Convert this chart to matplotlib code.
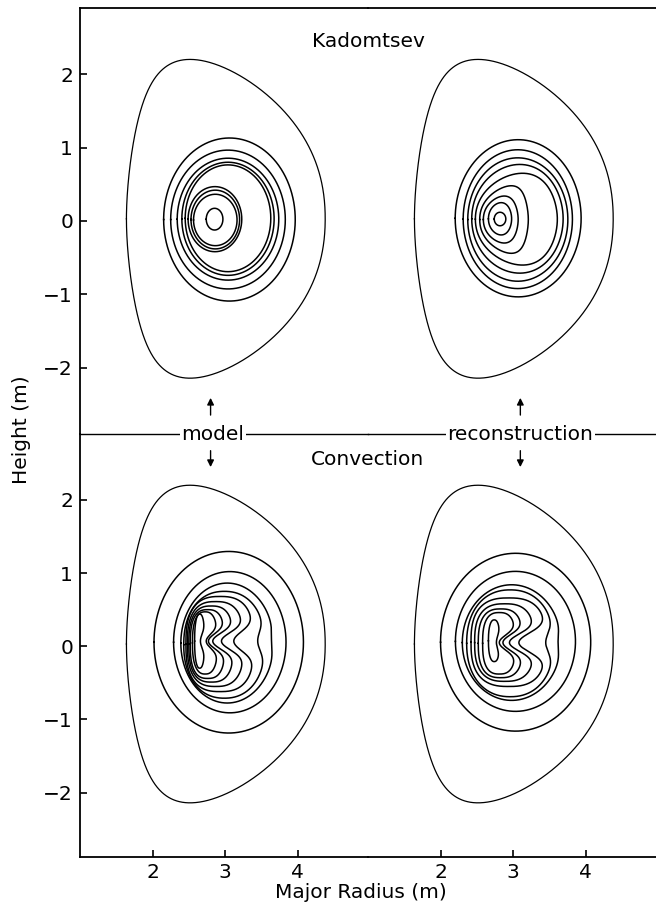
import numpy as np
import matplotlib
matplotlib.use("Agg")
import matplotlib.pyplot as plt

plt.rcParams['font.family'] = ['DejaVu Sans']

# ---------------- data (metres) ----------------
panel_titles = ["Kadomtsev", "Convection"]
column_labels = ["model", "reconstruction"]
x_ticks = [2, 3, 4]
y_ticks = [-2, -1, 0, 1, 2]
x_label = "Major Radius (m)"
y_label = "Height (m)"

# plasma boundary (same in all four cross-sections)
lcfs_R0 = 3.01
lcfs_Z0 = 0.03
lcfs_a = 1.37
lcfs_half_height = 2.17
lcfs_tri = 0.36

# Kadomtsev panels: centre R, centre Z, half width, half height, triangularity
kad_model_R0 = [3.06, 3.04, 3.04, 3.04, 3.04, 2.86, 2.865, 2.865, 2.855]
kad_model_Z0 = [0.02, 0.02, 0.025, 0.03, 0.037, 0.025, 0.02, 0.014, 0.025]
kad_model_a = [0.907, 0.79, 0.70, 0.636, 0.59, 0.37, 0.335, 0.30, 0.115]
kad_model_b = [1.11, 0.945, 0.83, 0.77, 0.727, 0.443, 0.40, 0.35, 0.148]
kad_model_tri = [0, 0, 0, 0, 0, 0, 0, 0, 0]

kad_rec_R0 = [3.07, 3.065, 3.065, 3.06, 3.045, 2.875, 2.83, 2.82, 2.82]
kad_rec_Z0 = [0.037, 0.025, 0.02, 0.03, 0.025, 0.02, 0.02, 0.03, 0.027]
kad_rec_a = [0.868, 0.753, 0.69, 0.63, 0.565, 0.335, 0.24, 0.16, 0.08]
kad_rec_b = [1.07, 0.945, 0.84, 0.74, 0.625, 0.46, 0.32, 0.22, 0.092]
kad_rec_tri = [0, 0, 0, -0.05, -0.15, -0.3, -0.2, -0.1, 0]

# Convection panels: left edge, right edge (lobes), right edge at the dent,
# top, bottom, height of the dent, dent half-height, squareness exponent
conv_model_left = [2.02, 2.29, 2.39, 2.43, 2.46, 2.48, 2.50, 2.52, 2.55, 2.58]
conv_model_right = [4.08, 3.84, 3.67, 3.55, 3.40, 3.26, 3.12, 3.00, 2.90, 2.72]
conv_model_dent = [4.08, 3.84, 3.64, 3.45, 3.12, 2.95, 2.83, 2.77, 2.74, 2.66]
conv_model_top = [1.295, 1.02, 0.863, 0.75, 0.68, 0.61, 0.55, 0.50, 0.47, 0.44]
conv_model_bottom = [-1.186, -0.91, -0.776, -0.71, -0.62, -0.55, -0.49, -0.44, -0.38, -0.30]
conv_model_zdent = [0.07] * 10
conv_model_width = [0.2, 0.2, 0.2, 0.2, 0.19, 0.17, 0.16, 0.15, 0.14, 0.14]
conv_model_sq = [1.0, 1.0, 1.0, 0.9, 0.75, 0.75, 0.75, 0.75, 0.8, 0.85]

conv_rec_left = [2.00, 2.205, 2.30, 2.36, 2.42, 2.47, 2.52, 2.58, 2.66]
conv_rec_right = [4.07, 3.86, 3.66, 3.56, 3.46, 3.30, 3.14, 3.04, 2.82]
conv_rec_dent = [4.07, 3.86, 3.62, 3.45, 3.08, 2.95, 2.86, 2.81, 2.77]
conv_rec_top = [1.27, 1.023, 0.84, 0.77, 0.66, 0.58, 0.51, 0.46, 0.36]
conv_rec_bottom = [-1.16, -0.89, -0.74, -0.69, -0.55, -0.48, -0.43, -0.38, -0.21]
conv_rec_zdent = [0.05] * 9
conv_rec_width = [0.2, 0.2, 0.2, 0.2, 0.19, 0.17, 0.16, 0.15, 0.14]
conv_rec_sq = [1.0, 1.0, 1.0, 0.9, 0.75, 0.75, 0.75, 0.75, 0.85]

# arrows (R position in each column) and column-label positions
arrow_R = [2.8, 3.1]
label_R = [2.83, 3.1]

# ---------------------------------------------------------------------
W, H = 656, 917
fig = plt.figure(figsize=(W / 100, H / 100), dpi=100)

xl = (1.0, 4.97)
yl_top = (-2.9, 2.9)
yl_bot = (-2.88, 2.9)
FS = 14.5

t = np.linspace(-np.pi, np.pi, 1441)


def dshape(R0, Z0, a, b, tri=0.0):
    shift = np.arcsin(tri) * np.sin(t) * np.sqrt(np.abs(np.sin(t)))
    R = R0 + a * np.cos(t + shift)
    Z = Z0 + b * np.sin(t)
    return R, Z


def bean(left, right, dent, top, bottom, zd, width, sq):
    c, s = np.cos(t), np.sin(t)
    Rm, ah = (left + right) / 2, (right - left) / 2
    Zm, bh = (top + bottom) / 2, (top - bottom) / 2
    R = Rm + ah * np.sign(c) * np.abs(c) ** sq
    Z = Zm + bh * np.sign(s) * np.abs(s) ** sq
    g = np.clip(c, 0, None) ** 2 * np.exp(-((Z - zd) / width) ** 2)
    R = R - (right - dent) * g
    return R, Z


def make_ax(px_left, px_top, px_w, px_h):
    return fig.add_axes([px_left / W, 1 - (px_top + px_h) / H, px_w / W, px_h / H])


axes = [[make_ax(80, 8, 288, 426), make_ax(368, 8, 288, 426)],
        [make_ax(80, 434, 288, 423), make_ax(368, 434, 288, 423)]]

kad_sets = [(kad_model_R0, kad_model_Z0, kad_model_a, kad_model_b, kad_model_tri),
            (kad_rec_R0, kad_rec_Z0, kad_rec_a, kad_rec_b, kad_rec_tri)]
conv_sets = [(conv_model_left, conv_model_right, conv_model_dent, conv_model_top,
              conv_model_bottom, conv_model_zdent, conv_model_width, conv_model_sq),
             (conv_rec_left, conv_rec_right, conv_rec_dent, conv_rec_top,
              conv_rec_bottom, conv_rec_zdent, conv_rec_width, conv_rec_sq)]

for row in range(2):
    for col in range(2):
        ax = axes[row][col]
        ax.set_xlim(*xl)
        ax.set_ylim(*(yl_top if row == 0 else yl_bot))
        for sp in ax.spines.values():
            sp.set_visible(False)
        ax.patch.set_alpha(0)
        R, Z = dshape(lcfs_R0, lcfs_Z0, lcfs_a, lcfs_half_height, lcfs_tri)
        ax.plot(R, Z, color='black', lw=0.9)
        if row == 0:
            R0s, Z0s, As, Bs, Ts = kad_sets[col]
            for i in range(len(R0s)):
                R, Z = dshape(R0s[i], Z0s[i], As[i], Bs[i], Ts[i])
                ax.plot(R, Z, color='black', lw=1.1)
        else:
            cols = conv_sets[col]
            for i in range(len(cols[0])):
                R, Z = bean(*[arr[i] for arr in cols])
                ax.plot(R, Z, color='black', lw=1.1)
        if col == 0:
            ax.spines['left'].set_visible(True)
            ax.spines['left'].set_linewidth(1.3)
            ax.set_yticks(y_ticks)
            ax.tick_params(axis='y', direction='in', length=5, width=1.2,
                           labelsize=FS, pad=5)
        else:
            ax.set_yticks([])
        if row == 0:
            ax.spines['top'].set_visible(True)
            ax.spines['top'].set_linewidth(1.3)
            ax.spines['bottom'].set_visible(True)
            ax.spines['bottom'].set_linewidth(1.0)
            ax.set_xticks([])
        else:
            ax.spines['bottom'].set_visible(True)
            ax.spines['bottom'].set_linewidth(1.3)
            ax.set_xticks(x_ticks)
            ax.tick_params(axis='x', direction='in', length=5, width=1.2,
                           labelsize=FS, pad=4)

axes[0][0].text(4.97, 2.45, panel_titles[0], ha='center', va='center', fontsize=FS)
axes[1][0].text(4.97, 2.55, panel_titles[1], ha='center', va='center', fontsize=FS)

for col in range(2):
    axt = axes[0][col]
    axb = axes[1][col]
    axt.text(label_R[col], -2.9, column_labels[col], ha='center', va='center',
             fontsize=FS, bbox=dict(facecolor='white', edgecolor='none', pad=1.0),
             clip_on=False, zorder=5)
    axt.annotate('', xy=(arrow_R[col], -2.37), xytext=(arrow_R[col], -2.68),
                 arrowprops=dict(arrowstyle='-|>', color='black', lw=1.0,
                                 mutation_scale=10))
    axb.annotate('', xy=(arrow_R[col], 2.41), xytext=(arrow_R[col], 2.71),
                 arrowprops=dict(arrowstyle='-|>', color='black', lw=1.0,
                                 mutation_scale=10))

fig.text(22 / W, 1 - 430 / H, y_label, rotation=90, ha='center', va='center', fontsize=FS)
fig.text(361 / W, 1 - 893 / H, x_label, ha='center', va='center', fontsize=FS)

fig.savefig('out.png', dpi=100)
